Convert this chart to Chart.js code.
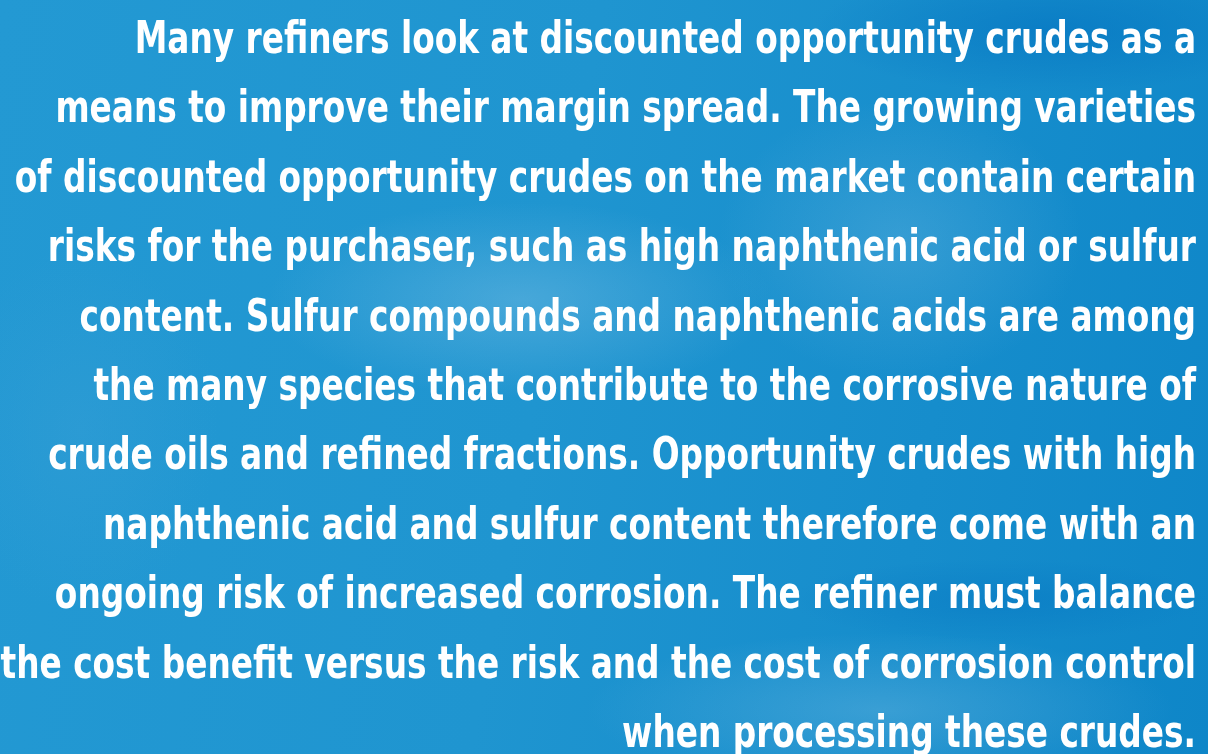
<!DOCTYPE html>
<html>
<head>
<meta charset="utf-8">
<script src="https://cdn.jsdelivr.net/npm/chart.js@4.4.1/dist/chart.umd.min.js"></script>
<style>
  html, body { margin: 0; padding: 0; }
  body {
    width: 1208px; height: 754px; overflow: hidden;
    background:
      radial-gradient(ellipse 360px 140px at 520px 300px, rgba(120,190,228,0.45), rgba(120,190,228,0) 70%),
      radial-gradient(ellipse 260px 200px at 900px 240px, rgba(110,185,225,0.35), rgba(110,185,225,0) 70%),
      radial-gradient(ellipse 420px 110px at 880px 710px, rgba(110,185,225,0.40), rgba(110,185,225,0) 70%),
      radial-gradient(ellipse 200px 260px at 80px 430px, rgba(60,160,215,0.35), rgba(60,160,215,0) 70%),
      radial-gradient(ellipse 340px 90px at 1050px 30px, rgba(0,110,190,0.50), rgba(0,110,190,0) 70%),
      radial-gradient(ellipse 300px 60px at 1000px 600px, rgba(0,110,190,0.35), rgba(0,110,190,0) 70%),
      linear-gradient(100deg, #2399d3 0%, #1f95d0 45%, #168dcc 75%, #0e86c8 100%);
  }
  #wrap { position: relative; width: 1208px; height: 754px; }
</style>
</head>
<body>
<div id="wrap"><canvas id="text-chart"></canvas></div>
<script>
const lines = [
  'Many refiners look at discounted opportunity crudes as a',
  'means to improve their margin spread. The growing varieties',
  'of discounted opportunity crudes on the market contain certain',
  'risks for the purchaser, such as high naphthenic acid or sulfur',
  'content. Sulfur compounds and naphthenic acids are among',
  'the many species that contribute to the corrosive nature of',
  'crude oils and refined fractions. Opportunity crudes with high',
  'naphthenic acid and sulfur content therefore come with an',
  'ongoing risk of increased corrosion. The refiner must balance',
  'the cost benefit versus the risk and the cost of corrosion control',
  'when processing these crudes.'
];

// draws the paragraph right-aligned, in a narrowed bold face
const condensedText = {
    id: 'condensedText',
    afterDraw(chart, args, opts) {
        const ctx = chart.ctx;
        ctx.save();
        ctx.fillStyle = opts.color;
        ctx.font = 'bold ' + opts.size + 'px ' + opts.family;
        ctx.textAlign = 'right';
        ctx.textBaseline = 'alphabetic';
        opts.lines.forEach((line, i) => {
            ctx.save();
            ctx.translate(opts.right, opts.top + i * opts.lineGap);
            ctx.scale(opts.squeeze, 1);
            ctx.fillText(line, 0, 0);
            ctx.restore();
        });
        ctx.restore();
    }
};

(async function () {
    new Chart(
        document.getElementById('text-chart'),
        {
            type: 'bar',
            data: { labels: [], datasets: [] },
            options: {
                responsive: true,
                maintainAspectRatio: false,
                animation: false,
                scales: { x: { display: false }, y: { display: false } },
                plugins: {
                    legend: { display: false },
                    tooltip: { enabled: false },
                    title: { display: false },
                    condensedText: {
                        lines: lines,
                        color: '#ffffff',
                        family: '"DejaVu Sans Condensed", "DejaVu Sans", sans-serif',
                        size: 44,
                        squeeze: 0.828,
                        right: 1196,
                        top: 53,
                        lineGap: 69.4
                    }
                }
            },
            plugins: [condensedText]
        }
    );
})();
</script>
</body>
</html>
